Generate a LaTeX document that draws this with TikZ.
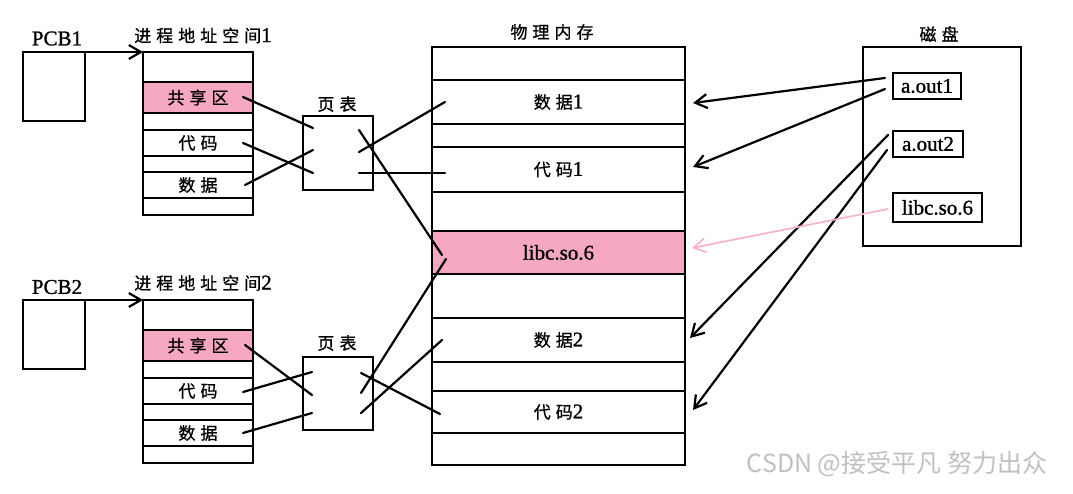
\documentclass[tikz,border=0pt]{standalone}
\usepackage{fontspec}
\setmainfont{Liberation Serif}
\newfontfamily\cjk[FakeBold=0.9]{Noto Sans CJK SC}
\newfontfamily\cjkwm{Noto Sans CJK SC}
\newfontfamily\lser[FakeBold=1.2]{Liberation Serif}
\usetikzlibrary{arrows.meta}
\definecolor{pinkfill}{RGB}{246,168,194}
\definecolor{pinkline}{RGB}{246,178,204}
\definecolor{wmgray}{RGB}{192,192,192}
\newcommand{\gp}{\kern5pt}
\newcommand{\hanz}[1]{{\cjk\fontsize{17}{19}\selectfont #1}}
\newcommand{\latn}[1]{{\lser\fontsize{21}{23}\selectfont #1}}
\begin{document}
\begin{tikzpicture}[x=1pt,y=-1pt,
  box/.style={draw=black,line width=2.8pt,inner sep=0pt,outer sep=0pt,fill=white},
  arow/.style={box,minimum width=110},
  mrow/.style={box,minimum width=253},
  pk/.style={fill=pinkfill},
  ttl/.style={inner sep=0pt},
  conn/.style={line width=2.2pt,line cap=round},
  arr/.style={conn,-{Straight Barb[length=12pt,width=14pt]}},
  parr/.style={line width=1.7pt,draw=pinkline,line cap=round,-{Straight Barb[length=12pt,width=14pt]}},
  fbox/.style={draw=black,line width=2.5pt,inner sep=0pt,fill=white}
]
\useasboundingbox (0,0) rectangle (1073,494);

% PCBs
\node[ttl] (pcb1l) at (57,38.5) {\latn{PCB1}};
\node[box,minimum width=62,minimum height=69] (pcb1) at (54,86.5) {};
\node[ttl] (pcb2l) at (57,287) {\latn{PCB2}};
\node[box,minimum width=62,minimum height=69] (pcb2) at (54,334.5) {};

% address space 1
\node[ttl] (as1t) at (203,35.5) {\hanz{进\gp 程\gp 地\gp 址\gp 空\gp 间}\latn{1}};
\node[arow,minimum height=30] (a1) at (198,67) {};
\node[arow,pk,minimum height=31] (a2) at (198,97.5) {\hanz{共\gp 享\gp 区}};
\node[arow,minimum height=17] (a3) at (198,121.5) {};
\node[arow,minimum height=26] (a4) at (198,143) {\hanz{代\gp 码}};
\node[arow,minimum height=16] (a5) at (198,164) {};
\node[arow,minimum height=26] (a6) at (198,185) {\hanz{数\gp 据}};
\node[arow,minimum height=17] (a7) at (198,206.5) {};

% address space 2
\node[ttl] (as2t) at (203,283) {\hanz{进\gp 程\gp 地\gp 址\gp 空\gp 间}\latn{2}};
\node[arow,minimum height=30] (b1) at (198,315) {};
\node[arow,pk,minimum height=31] (b2) at (198,345.5) {\hanz{共\gp 享\gp 区}};
\node[arow,minimum height=17] (b3) at (198,369.5) {};
\node[arow,minimum height=26] (b4) at (198,391) {\hanz{代\gp 码}};
\node[arow,minimum height=16] (b5) at (198,412) {};
\node[arow,minimum height=26] (b6) at (198,433) {\hanz{数\gp 据}};
\node[arow,minimum height=17] (b7) at (198,454.5) {};

% page tables
\node[ttl] (pt1t) at (337,104) {\hanz{页\gp 表}};
\node[box,minimum width=70,minimum height=74] (pt1) at (338,153) {};
\node[ttl] (pt2t) at (337,343) {\hanz{页\gp 表}};
\node[box,minimum width=70,minimum height=73] (pt2) at (338,393.5) {};

% physical memory
\node[ttl] (mt) at (552,32) {\hanz{物\gp 理\gp 内\gp 存}};
\node[mrow,minimum height=33] (m1) at (558.5,63.5) {};
\node[mrow,minimum height=44] (m2) at (558.5,102) {\hanz{数\gp 据}\latn{1}};
\node[mrow,minimum height=23] (m3) at (558.5,135.5) {};
\node[mrow,minimum height=45] (m4) at (558.5,169.5) {\hanz{代\gp 码}\latn{1}};
\node[mrow,minimum height=39] (m5) at (558.5,211.5) {};
\node[mrow,pk,minimum height=43] (m6) at (558.5,252.5) {\latn{libc.so.6}};
\node[mrow,minimum height=44] (m7) at (558.5,296) {};
\node[mrow,minimum height=44] (m8) at (558.5,340) {\hanz{数\gp 据}\latn{2}};
\node[mrow,minimum height=29] (m9) at (558.5,376.5) {};
\node[mrow,minimum height=42] (m10) at (558.5,412) {\hanz{代\gp 码}\latn{2}};
\node[mrow,minimum height=32] (m11) at (558.5,449) {};

% disk
\node[ttl] (dt) at (939,34) {\hanz{磁\gp 盘}};
\node[box,minimum width=158,minimum height=199] (dk) at (942,146.5) {};
\node[fbox,minimum width=68,minimum height=26] (f1) at (927,86) {\latn{a.out1}};
\node[fbox,minimum width=70,minimum height=26] (f2) at (928,144) {\latn{a.out2}};
\node[fbox,minimum width=89,minimum height=29] (f3) at (937.5,207.5) {\latn{libc.so.6}};

% watermark
\node[ttl,text=wmgray] (wm) at (897,464) {\cjkwm\fontsize{25}{27}\selectfont CSDN @接受平凡 努力出众};

% connector end points
\coordinate (a2e) at (243,97);
\coordinate (a4e) at (243,143);
\coordinate (a6e) at (245,185);
\coordinate (p1l1) at (313,128);
\coordinate (p1l2) at (313,150);
\coordinate (p1l3) at (313,173);
\coordinate (p1r1) at (359,130);
\coordinate (p1r2) at (359,152);
\coordinate (p1r3) at (359,173);
\coordinate (m2e) at (445,102);
\coordinate (m4e) at (445,173);
\coordinate (m6e1) at (442,255);
\coordinate (b2e) at (245,345);
\coordinate (b4e) at (243,392);
\coordinate (b6e) at (243,433);
\coordinate (p2l1) at (312,372);
\coordinate (p2l2) at (312,395);
\coordinate (p2l3) at (312,413);
\coordinate (p2r1) at (361,373);
\coordinate (p2r2) at (361,393);
\coordinate (p2r3) at (361,413);
\coordinate (m10e) at (440,414);
\coordinate (m6e2) at (446,259);
\coordinate (m8e) at (442,340);
\coordinate (f1s1) at (885,78);
\coordinate (f1s2) at (885,89);
\coordinate (f2s1) at (888,135);
\coordinate (f2s2) at (887,150);
\coordinate (f3s) at (888,209);
\coordinate (m2in) at (693,103);
\coordinate (m4in) at (693,167);
\coordinate (m8in) at (690,338);
\coordinate (m10in) at (693,410);
\coordinate (m6in) at (692,248);

% PCB arrows
\draw[arr] (pcb1.north east) -- (a1.north west);
\draw[arr] (pcb2.north east) -- (b1.north west);

% process 1 mappings
\draw[conn] (a2e) -- (p1l1);
\draw[conn] (a4e) -- (p1l3);
\draw[conn] (a6e) -- (p1l2);
\draw[conn] (p1r1) -- (m6e1);
\draw[conn] (p1r2) -- (m2e);
\draw[conn] (p1r3) -- (m4e);

% process 2 mappings
\draw[conn] (b2e) -- (p2l2);
\draw[conn] (b4e) -- (p2l1);
\draw[conn] (b6e) -- (p2l3);
\draw[conn] (p2r1) -- (m10e);
\draw[conn] (p2r2) -- (m6e2);
\draw[conn] (p2r3) -- (m8e);

% disk loads
\draw[arr] (f1s1) -- (m2in);
\draw[arr] (f1s2) -- (m4in);
\draw[arr] (f2s1) -- (m8in);
\draw[arr] (f2s2) -- (m10in);
\draw[parr] (f3s) -- (m6in);
\end{tikzpicture}
\end{document}
